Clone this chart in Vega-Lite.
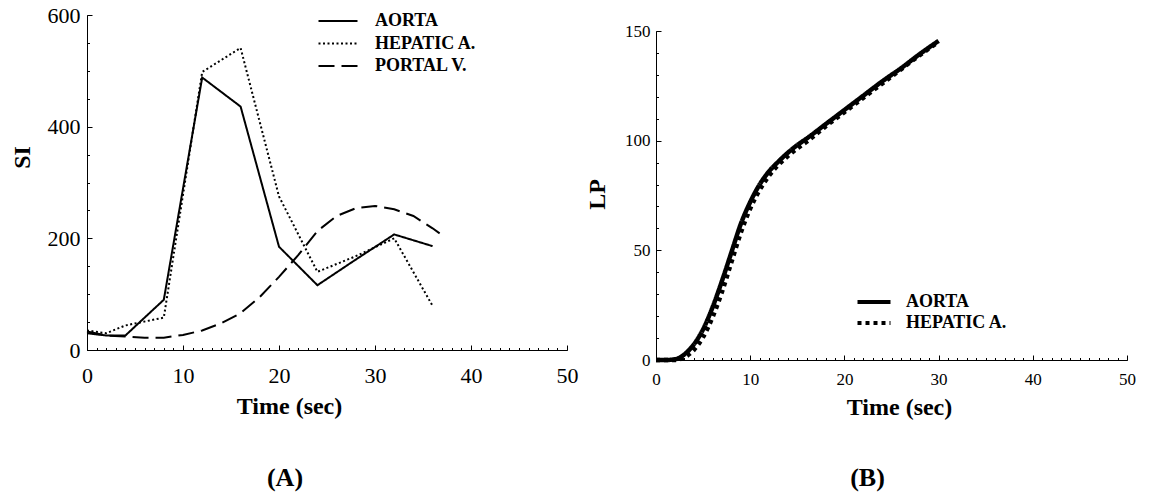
{
  "$schema": "https://vega.github.io/schema/vega-lite/v6.json",
  "autosize": {"type": "none"},
  "padding": {"left": 87, "top": 15, "right": 1062, "bottom": 482},
  "background": "white",
  "bounds": "flush",
  "spacing": 89,
  "resolve": {"scale": {"strokeDash": "independent"}, "legend": {"strokeDash": "independent"}},
  "datasets": {
    "a": [
      {"series": "AORTA", "t": 0, "v": 30},
      {"series": "AORTA", "t": 2, "v": 26},
      {"series": "AORTA", "t": 4, "v": 26},
      {"series": "AORTA", "t": 8, "v": 90},
      {"series": "AORTA", "t": 12, "v": 488},
      {"series": "AORTA", "t": 16, "v": 436},
      {"series": "AORTA", "t": 20, "v": 185},
      {"series": "AORTA", "t": 24, "v": 116},
      {"series": "AORTA", "t": 28, "v": 162},
      {"series": "AORTA", "t": 32, "v": 207},
      {"series": "AORTA", "t": 36, "v": 186},
      {"series": "HEPATIC A.", "t": 0, "v": 35},
      {"series": "HEPATIC A.", "t": 2, "v": 30},
      {"series": "HEPATIC A.", "t": 4, "v": 44},
      {"series": "HEPATIC A.", "t": 8, "v": 58},
      {"series": "HEPATIC A.", "t": 12, "v": 498},
      {"series": "HEPATIC A.", "t": 16, "v": 541},
      {"series": "HEPATIC A.", "t": 20, "v": 275},
      {"series": "HEPATIC A.", "t": 24, "v": 140},
      {"series": "HEPATIC A.", "t": 28, "v": 168},
      {"series": "HEPATIC A.", "t": 32, "v": 200},
      {"series": "HEPATIC A.", "t": 36, "v": 79},
      {"series": "PORTAL V.", "t": 0, "v": 33},
      {"series": "PORTAL V.", "t": 2, "v": 26},
      {"series": "PORTAL V.", "t": 4, "v": 24},
      {"series": "PORTAL V.", "t": 6, "v": 22},
      {"series": "PORTAL V.", "t": 8, "v": 22},
      {"series": "PORTAL V.", "t": 10, "v": 27},
      {"series": "PORTAL V.", "t": 12, "v": 35},
      {"series": "PORTAL V.", "t": 14, "v": 48},
      {"series": "PORTAL V.", "t": 16, "v": 66},
      {"series": "PORTAL V.", "t": 18, "v": 95},
      {"series": "PORTAL V.", "t": 20, "v": 131},
      {"series": "PORTAL V.", "t": 22, "v": 170},
      {"series": "PORTAL V.", "t": 24, "v": 213},
      {"series": "PORTAL V.", "t": 26, "v": 240},
      {"series": "PORTAL V.", "t": 28, "v": 254},
      {"series": "PORTAL V.", "t": 30, "v": 258},
      {"series": "PORTAL V.", "t": 32, "v": 252},
      {"series": "PORTAL V.", "t": 34, "v": 240},
      {"series": "PORTAL V.", "t": 36, "v": 218},
      {"series": "PORTAL V.", "t": 37.3, "v": 202}
    ],
    "b": [
      {"series": "AORTA", "t": 0, "v": 0},
      {"series": "AORTA", "t": 1, "v": 0},
      {"series": "AORTA", "t": 2, "v": 0.3},
      {"series": "AORTA", "t": 3, "v": 2.5},
      {"series": "AORTA", "t": 4, "v": 7},
      {"series": "AORTA", "t": 5, "v": 14},
      {"series": "AORTA", "t": 6, "v": 24},
      {"series": "AORTA", "t": 7, "v": 36},
      {"series": "AORTA", "t": 8, "v": 49},
      {"series": "AORTA", "t": 9, "v": 62},
      {"series": "AORTA", "t": 10, "v": 72},
      {"series": "AORTA", "t": 11, "v": 80},
      {"series": "AORTA", "t": 12, "v": 86},
      {"series": "AORTA", "t": 13, "v": 90.5},
      {"series": "AORTA", "t": 14, "v": 94.5},
      {"series": "AORTA", "t": 15, "v": 98},
      {"series": "AORTA", "t": 16, "v": 101},
      {"series": "AORTA", "t": 18, "v": 107.5},
      {"series": "AORTA", "t": 20, "v": 114},
      {"series": "AORTA", "t": 22, "v": 120.5},
      {"series": "AORTA", "t": 24, "v": 127},
      {"series": "AORTA", "t": 26, "v": 133},
      {"series": "AORTA", "t": 28, "v": 139.5},
      {"series": "AORTA", "t": 30, "v": 145.5},
      {"series": "HEPATIC A.", "t": 0, "v": 0},
      {"series": "HEPATIC A.", "t": 1, "v": 0},
      {"series": "HEPATIC A.", "t": 2, "v": 0},
      {"series": "HEPATIC A.", "t": 3, "v": 1.2},
      {"series": "HEPATIC A.", "t": 4, "v": 4.5},
      {"series": "HEPATIC A.", "t": 5, "v": 10.5},
      {"series": "HEPATIC A.", "t": 6, "v": 19.5},
      {"series": "HEPATIC A.", "t": 7, "v": 31},
      {"series": "HEPATIC A.", "t": 8, "v": 44.5},
      {"series": "HEPATIC A.", "t": 9, "v": 58},
      {"series": "HEPATIC A.", "t": 10, "v": 69},
      {"series": "HEPATIC A.", "t": 11, "v": 77.5},
      {"series": "HEPATIC A.", "t": 12, "v": 84},
      {"series": "HEPATIC A.", "t": 13, "v": 89},
      {"series": "HEPATIC A.", "t": 14, "v": 93},
      {"series": "HEPATIC A.", "t": 15, "v": 96.5},
      {"series": "HEPATIC A.", "t": 16, "v": 99.5},
      {"series": "HEPATIC A.", "t": 18, "v": 106.5},
      {"series": "HEPATIC A.", "t": 20, "v": 113},
      {"series": "HEPATIC A.", "t": 22, "v": 119.5},
      {"series": "HEPATIC A.", "t": 24, "v": 126},
      {"series": "HEPATIC A.", "t": 26, "v": 132.5},
      {"series": "HEPATIC A.", "t": 28, "v": 139},
      {"series": "HEPATIC A.", "t": 30, "v": 145}
    ]
  },
  "hconcat": [
    {
      "width": 480,
      "height": 335,
      "data": {"name": "a"},
      "title": {"text": "(A)", "orient": "bottom", "anchor": "middle", "dx": -42, "offset": 47, "fontSize": 26, "fontWeight": "bold", "font": "Liberation Serif", "color": "black"},
      "resolve": {"axis": {"x": "independent", "y": "independent"}},
      "layer": [
        {
          "mark": {"type": "line", "color": "black", "strokeWidth": 2},
          "encoding": {
            "x": {"field": "t", "type": "quantitative", "scale": {"domain": [0, 50], "nice": false, "zero": false},
              "axis": {"orient": "bottom", "values": [0, 10, 20, 30, 40, 50], "tickSize": -5, "labelPadding": 20, "labelFontSize": 22, "labelFlush": false, "labelOverlap": false,
                "title": "Time (sec)", "titleFontSize": 24, "titleFontWeight": "bold", "titleX": 202, "titleY": 56, "titleBaseline": "middle", "titleAlign": "center"}},
            "y": {"field": "v", "type": "quantitative", "scale": {"domain": [0, 600], "nice": false, "zero": false},
              "axis": {"orient": "left", "values": [0, 200, 400, 600], "tickSize": -5, "labelPadding": 12, "labelFontSize": 22, "labelFlush": false, "labelOverlap": false,
                "title": "SI", "titleFontSize": 24, "titleFontWeight": "bold", "titleAngle": 270, "titleX": -65, "titleY": 142, "titleBaseline": "middle", "titleAlign": "center"}},
            "strokeDash": {"field": "series", "type": "nominal",
              "scale": {"domain": ["AORTA", "HEPATIC A.", "PORTAL V."], "range": [[1, 0], [2, 2.5], [16, 7]]},
              "legend": {"orient": "none", "legendX": 242, "legendY": -3, "title": null, "padding": 0, "symbolType": "M-3,0H3", "symbolSize": 169, "symbolStrokeWidth": 2, "symbolStrokeColor": "black", "symbolFillColor": "transparent",
                "labelFont": "Liberation Serif", "labelFontSize": 18, "labelFontWeight": "bold", "labelColor": "black", "labelOffset": 28, "rowPadding": 4.5}}
          }
        },
        {
          "mark": {"type": "point", "opacity": 0},
          "encoding": {
            "x": {"field": "t", "type": "quantitative",
              "axis": {"orient": "bottom", "values": [0,1,2,3,4,5,6,7,8,9,10,11,12,13,14,15,16,17,18,19,20,21,22,23,24,25,26,27,28,29,30,31,32,33,34,35,36,37,38,39,40,41,42,43,44,45,46,47,48,49,50], "tickSize": -2.5, "labels": false, "domain": false, "title": null}},
            "y": {"field": "v", "type": "quantitative",
              "axis": {"orient": "left", "values": [0,50,100,150,200,250,300,350,400,450,500,550,600], "tickSize": -2.5, "labels": false, "domain": false, "title": null}}
          }
        }
      ]
    },
    {
      "width": 471,
      "height": 345,
      "data": {"name": "b"},
      "title": {"text": "(B)", "orient": "bottom", "anchor": "middle", "dx": -24, "offset": 46, "fontSize": 26, "fontWeight": "bold", "font": "Liberation Serif", "color": "black"},
      "resolve": {"axis": {"x": "independent", "y": "independent"}},
      "layer": [
        {
          "mark": {"type": "line", "color": "black", "strokeWidth": 4.5, "interpolate": "monotone"},
          "encoding": {
            "x": {"field": "t", "type": "quantitative", "scale": {"domain": [0, 50], "nice": false, "zero": false},
              "axis": {"orient": "bottom", "values": [0, 10, 20, 30, 40, 50], "tickSize": -5, "labelPadding": 16, "labelFontSize": 17, "labelFlush": false, "labelOverlap": false,
                "title": "Time (sec)", "titleFontSize": 24, "titleFontWeight": "bold", "titleX": 243, "titleY": 47, "titleBaseline": "middle", "titleAlign": "center"}},
            "y": {"field": "v", "type": "quantitative", "scale": {"domain": [0, 150], "range": [345, 16], "nice": false, "zero": false},
              "axis": {"orient": "left", "values": [0, 50, 100, 150], "tickSize": -5, "labelPadding": 11, "labelFontSize": 17, "labelFlush": false, "labelOverlap": false,
                "title": "LP", "titleFontSize": 24, "titleFontWeight": "bold", "titleAngle": 270, "titleX": -59, "titleY": 179, "titleBaseline": "middle", "titleAlign": "center"}},
            "strokeDash": {"field": "series", "type": "nominal",
              "scale": {"domain": ["AORTA", "HEPATIC A."], "range": [[1, 0], [4, 4]]},
              "legend": {"orient": "none", "legendX": 209, "legendY": 278, "title": null, "padding": 0, "symbolType": "M-3,0H3", "symbolSize": 121, "symbolStrokeWidth": 4, "symbolStrokeColor": "black", "symbolFillColor": "transparent",
                "labelFont": "Liberation Serif", "labelFontSize": 18, "labelFontWeight": "bold", "labelColor": "black", "labelOffset": 23, "rowPadding": 3}}
          }
        },
        {
          "mark": {"type": "point", "opacity": 0},
          "encoding": {
            "x": {"field": "t", "type": "quantitative",
              "axis": {"orient": "bottom", "values": [0,1,2,3,4,5,6,7,8,9,10,11,12,13,14,15,16,17,18,19,20,21,22,23,24,25,26,27,28,29,30,31,32,33,34,35,36,37,38,39,40,41,42,43,44,45,46,47,48,49,50], "tickSize": -2.5, "labels": false, "domain": false, "title": null}},
            "y": {"field": "v", "type": "quantitative",
              "axis": {"orient": "left", "values": [0,10,20,30,40,50,60,70,80,90,100,110,120,130,140,150], "tickSize": -2.5, "labels": false, "domain": false, "title": null}}
          }
        }
      ]
    }
  ],
  "config": {
    "font": "Liberation Serif",
    "view": {"stroke": null},
    "axis": {"grid": false, "domainColor": "black", "tickColor": "black", "labelColor": "black", "titleColor": "black", "labelFont": "Liberation Serif", "titleFont": "Liberation Serif", "domainWidth": 1, "tickWidth": 1}
  }
}
